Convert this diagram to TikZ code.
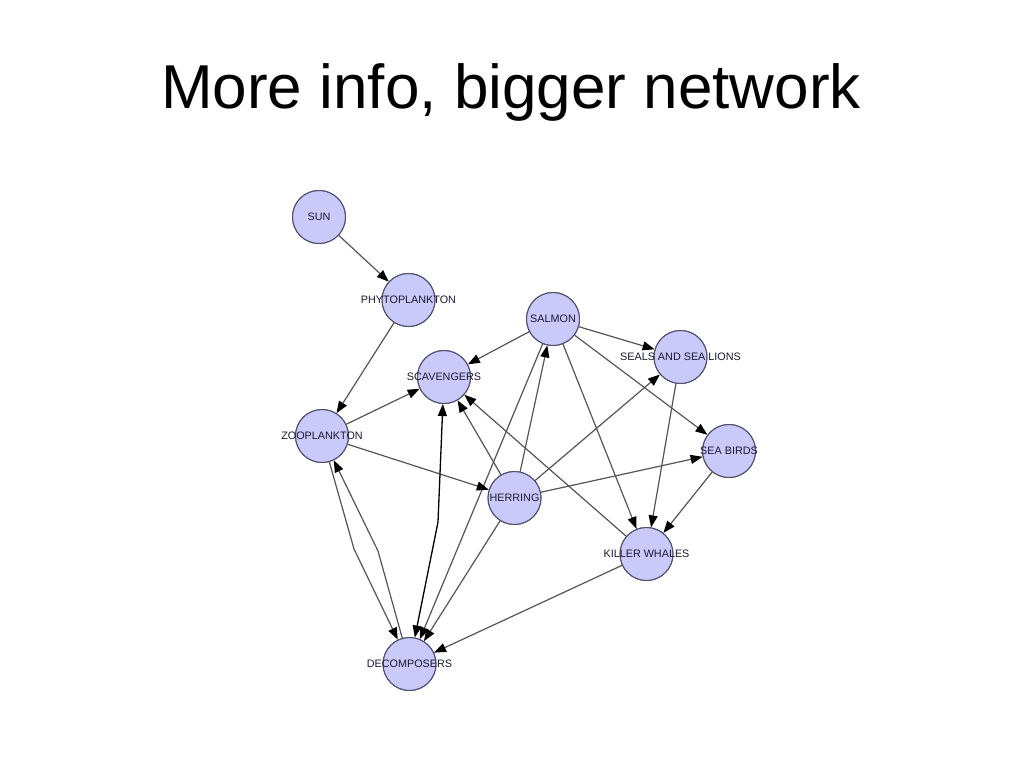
\documentclass[tikz,border=0pt]{standalone}
\usepackage{fontspec}
\setmainfont{Liberation Sans}
\usetikzlibrary{arrows.meta}
\definecolor{nodefill}{RGB}{201,201,250}
\definecolor{nodeline}{RGB}{80,80,110}
\definecolor{labeltext}{RGB}{25,25,50}
\definecolor{edgegray}{RGB}{85,85,85}
\begin{document}
\begin{tikzpicture}[x=1pt,y=-1pt,
  species/.style={circle,draw=nodeline,line width=1pt,fill=nodefill,minimum size=53pt,inner sep=0pt},
  lbl/.style={font=\fontsize{10.8}{12}\selectfont,text=labeltext,inner sep=0pt},
  link/.style={draw=edgegray,line width=1.2pt,-{Triangle[length=12pt,width=9pt,black]}},
  darklink/.style={draw=black,line width=1.3pt,{Triangle[length=12pt,width=9pt,black]}-{Triangle[length=12pt,width=9pt,black]}},
  titlefont/.style={font=\fontsize{62}{62}\selectfont,inner sep=0pt}]
\useasboundingbox[fill=white] (0,0) rectangle (1024,768);
\node[titlefont,anchor=base] (title) at (511,108) {More info, bigger network};

\node[species] (sun) at (319,217) {};
\node[species] (phyto) at (408.5,300) {};
\node[species] (salmon) at (553,319) {};
\node[species] (scav) at (444,377) {};
\node[species] (seals) at (680.5,357) {};
\node[species] (zoo) at (322,436) {};
\node[species] (birds) at (729,451) {};
\node[species] (herring) at (514.5,498) {};
\node[species] (killer) at (646.5,554) {};
\node[species] (decomp) at (409.5,664) {};

\coordinate (zd) at (354,549);
\coordinate (dz) at (378,551);
\coordinate (sd) at (438,522);

% edges
\draw[link] (sun) -- (phyto);
\draw[link] (phyto) -- (zoo);
\draw[link] (salmon) -- (scav);
\draw[link] (salmon) -- (seals);
\draw[link] (salmon) -- (birds);
\draw[link] (salmon) -- (killer);
\draw[link] (salmon) -- (decomp);
\draw[link] (herring) -- (salmon);
\draw[link] (herring) -- (seals);
\draw[link] (herring) -- (birds);
\draw[link] (herring) -- (scav);
\draw[link] (herring) -- (decomp);
\draw[link] (killer) -- (scav);
\draw[link] (killer) -- (decomp);
\draw[link] (seals) -- (killer);
\draw[link] (birds) -- (killer);
\draw[link] (zoo) -- (scav);
\draw[link] (zoo) -- (herring);
\draw[link] (zoo) -- (zd) -- (decomp);
\draw[link] (decomp) -- (dz) -- (zoo);
\draw[darklink] (scav) -- (sd) -- (decomp);

% redraw nodes on top of lines' starts
\foreach \n in {sun,phyto,salmon,scav,seals,zoo,birds,herring,killer,decomp}{
  \fill[nodefill] (\n) circle (26pt);
  \draw[nodeline,line width=1pt] (\n) circle (26.5pt);
}

\node[lbl] (sunlbl) at (sun) {SUN};
\node[lbl] (phytolbl) at (phyto) {PHYTOPLANKTON};
\node[lbl] (salmonlbl) at (salmon) {SALMON};
\node[lbl] (scavlbl) at (scav) {SCAVENGERS};
\node[lbl] (sealslbl) at (seals) {SEALS AND SEA LIONS};
\node[lbl] (zoolbl) at (zoo) {ZOOPLANKTON};
\node[lbl] (birdslbl) at (birds) {SEA BIRDS};
\node[lbl] (herringlbl) at (herring) {HERRING};
\node[lbl] (killerlbl) at (killer) {KILLER WHALES};
\node[lbl] (decomplbl) at (decomp) {DECOMPOSERS};
\end{tikzpicture}
\end{document}
